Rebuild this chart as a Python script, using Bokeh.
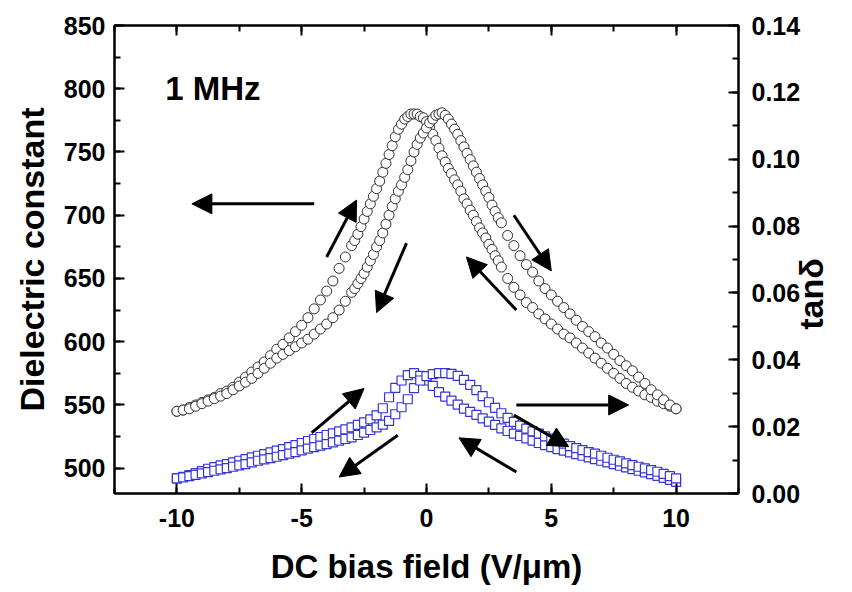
import math
from bokeh.plotting import figure
from bokeh.models import (Range1d, LinearAxis, SingleIntervalTicker, FixedTicker,
                          Arrow, NormalHead, Label, PrintfTickFormatter,
                          CustomJSTickFormatter)
from bokeh.embed import file_html
from bokeh.resources import INLINE

# ---------------- data ----------------
# dielectric constant sweep (finer sampling near the peaks)
field_eps = [-10, -9.75, -9.5, -9.25, -9, -8.75, -8.5, -8.25, -8,
             -7.75, -7.5, -7.25, -7, -6.75, -6.5, -6.25, -6,
             -5.75, -5.5, -5.25, -5, -4.75, -4.5, -4.25, -4,
             -3.75, -3.5, -3.25,
             -3, -2.875, -2.75, -2.625, -2.5, -2.375, -2.25, -2.125,
             -2, -1.875, -1.75, -1.625, -1.5, -1.375, -1.25, -1.125,
             -1, -0.875, -0.75, -0.625, -0.5, -0.375, -0.25, -0.125,
             0, 0.125, 0.25, 0.375, 0.5, 0.625, 0.75, 0.875,
             1, 1.125, 1.25, 1.375, 1.5, 1.625, 1.75, 1.875,
             2, 2.125, 2.25, 2.375, 2.5, 2.625, 2.75, 2.875, 3,
             3.25, 3.5, 3.75, 4,
             4.25, 4.5, 4.75, 5, 5.25, 5.5, 5.75, 6,
             6.25, 6.5, 6.75, 7, 7.25, 7.5, 7.75, 8,
             8.25, 8.5, 8.75, 9, 9.25, 9.5, 9.75, 10]

eps_branch1 = [545, 546, 548, 550, 552, 554, 556, 559, 561,
               564, 568, 572, 576, 580, 584, 589, 594,
               598, 603, 608, 613, 619, 626, 633, 640,
               648, 658, 667,
               676, 680, 685, 691, 697, 703, 709, 715,
               721, 727, 734, 741, 748, 755, 762, 768,
               772, 776, 778, 780, 780, 780, 778, 777,
               774, 770, 764, 759, 753, 747, 742, 737,
               733, 728, 724, 719, 713, 709, 704, 700,
               695, 690, 686, 682, 677, 673, 668, 664, 659,
               650, 643, 637, 631,
               627, 622, 618, 614, 610, 606, 603, 599,
               595, 591, 587, 583, 579, 575, 571, 567,
               564, 561, 558, 556, 553, 551, 549, 547]

eps_branch2 = [545, 546, 547, 549, 551, 553, 555, 557, 559,
               562, 565, 568, 571, 575, 579, 583, 587,
               590, 593, 596, 599, 602, 606, 610, 614,
               619, 625, 632,
               639, 642, 646, 650, 654, 659, 664, 669,
               675, 680, 686, 693, 700, 707, 713, 719,
               724, 730, 736, 743, 750, 756, 761, 765,
               769, 773, 776, 779, 780, 781, 779, 776,
               772, 768, 764, 759, 754, 749, 744, 739,
               734, 729, 724, 719, 714, 708, 703, 698, 694,
               684, 676, 668, 661,
               655, 648, 642, 637, 632, 627, 622, 617,
               612, 608, 604, 599, 595, 590, 585, 581,
               577, 572, 567, 562, 558, 554, 550, 547]

# loss tangent sweep
field_tan = [-10, -9.75, -9.5, -9.25, -9, -8.75, -8.5, -8.25, -8,
             -7.75, -7.5, -7.25, -7, -6.75, -6.5, -6.25, -6,
             -5.75, -5.5, -5.25, -5, -4.75, -4.5, -4.25, -4,
             -3.75, -3.5, -3.25, -3, -2.75, -2.5, -2.25, -2,
             -1.75, -1.5, -1.25, -1, -0.75, -0.5, -0.25, 0,
             0.25, 0.5, 0.75, 1, 1.25, 1.5, 1.75, 2,
             2.25, 2.5, 2.75, 3, 3.25, 3.5, 3.75, 4,
             4.25, 4.5, 4.75, 5, 5.25, 5.5, 5.75, 6,
             6.25, 6.5, 6.75, 7, 7.25, 7.5, 7.75, 8,
             8.25, 8.5, 8.75, 9, 9.25, 9.5, 9.75, 10]

tan_branch1 = [.0045, .0050, .0055, .0061, .0067, .0074, .0079, .0084, .0088,
               .0093, .0098, .0103, .0108, .0113, .0118, .0123, .0128,
               .0133, .0139, .0145, .0151, .0157, .0163, .0169, .0175,
               .0180, .0186, .0192, .0198, .0205, .0213, .0222, .0234,
               .0255, .0288, .0316, .0338, .0354, .0360, .0352, .0338,
               .0322, .0303, .0290, .0278, .0266, .0254, .0244, .0235,
               .0225, .0215, .0205, .0195, .0187, .0179, .0172, .0165,
               .0158, .0151, .0145, .0139, .0133, .0128, .0123, .0118,
               .0113, .0108, .0103, .0098, .0093, .0088, .0083, .0078,
               .0073, .0068, .0063, .0058, .0053, .0047, .0041, .0035]

tan_branch2 = [.0045, .0048, .0052, .0056, .0060, .0064, .0068, .0072, .0076,
               .0080, .0084, .0088, .0093, .0098, .0102, .0106, .0110,
               .0115, .0119, .0124, .0129, .0134, .0139, .0143, .0148,
               .0153, .0158, .0163, .0168, .0175, .0182, .0190, .0198,
               .0206, .0217, .0237, .0258, .0282, .0315, .0338, .0351,
               .0357, .0360, .0360, .0358, .0352, .0340, .0325, .0309,
               .0291, .0273, .0256, .0240, .0226, .0214, .0203, .0194,
               .0186, .0179, .0171, .0164, .0157, .0149, .0142, .0136,
               .0130, .0124, .0119, .0113, .0107, .0101, .0096, .0090,
               .0085, .0080, .0075, .0070, .0065, .0059, .0052, .0045]

# arrow annotations: (x_start, y_start, x_end, y_end) in left-axis units
arrows = [(-4.5, 709, -9.4, 709),
          (-4.0, 667, -2.8, 712),
          (-0.8, 678, -2.0, 623),
          (3.5, 700, 5.0, 656),
          (3.6, 625, 1.6, 667),
          (3.6, 550, 8.1, 550),
          (-4.6, 528, -2.5, 563),
          (-1.15, 526, -3.5, 493),
          (3.5, 542, 5.7, 517),
          (3.6, 497, 1.3, 524)]

FONT = "Liberation Sans"

p = figure(width=852, height=592, output_backend="svg", toolbar_location=None,
           x_range=Range1d(-12.5, 12.5), y_range=Range1d(480, 850.0001),
           min_border_left=114, min_border_right=109,
           min_border_top=25, min_border_bottom=99,
           background_fill_color="white", border_fill_color="white")
p.xgrid.visible = False
p.ygrid.visible = False
p.outline_line_color = "black"
p.outline_line_width = 2
p.extra_y_ranges = {"tan": Range1d(0, 0.1400001)}

def style_axis(ax, size="25px"):
    ax.axis_line_width = 2
    ax.axis_line_color = "black"
    ax.major_tick_line_width = 2
    ax.minor_tick_line_width = 2
    ax.major_tick_in = 10
    ax.major_tick_out = 0
    ax.minor_tick_in = 6
    ax.minor_tick_out = 0
    ax.major_label_text_font = FONT
    ax.major_label_text_font_style = "bold"
    ax.major_label_text_font_size = size
    ax.major_label_text_color = "black"
    ax.axis_label_text_font = FONT
    ax.axis_label_text_font_style = "bold"
    ax.axis_label_text_font_size = "33px"
    ax.axis_label_text_color = "black"

xax = p.xaxis[0]
xax.ticker = SingleIntervalTicker(interval=5, num_minor_ticks=2)
xax.formatter = PrintfTickFormatter(format="%d")
xax.axis_label = "DC bias field (V/\u03bcm)"
style_axis(xax)
xax.major_label_standoff = 15
xax.axis_label_standoff = 18

yax = p.yaxis[0]
yax.ticker = SingleIntervalTicker(interval=50, num_minor_ticks=2)
yax.axis_label = "Dielectric constant"
style_axis(yax)
yax.axis_label_text_font_size = "34px"
yax.major_label_standoff = 9
yax.axis_label_standoff = 10

top = LinearAxis(ticker=SingleIntervalTicker(interval=5, num_minor_ticks=2),
                 formatter=CustomJSTickFormatter(code="return ''"))
style_axis(top)
top.major_label_standoff = 0
p.add_layout(top, "above")

rax = LinearAxis(y_range_name="tan",
                 ticker=SingleIntervalTicker(interval=0.02, num_minor_ticks=2),
                 formatter=PrintfTickFormatter(format="%.2f"))
style_axis(rax)
rax.major_label_standoff = 13
p.add_layout(rax, "right")

# right-hand axis title "tanδ", reading bottom-to-top as in the original
rtitle = LinearAxis(y_range_name="tan", ticker=FixedTicker(ticks=[0.049], minor_ticks=[]),
                    major_label_overrides={0.049: "tan\u03b4"})
rtitle.axis_line_color = None
rtitle.major_tick_line_color = None
rtitle.minor_tick_line_color = None
rtitle.major_tick_in = 0
rtitle.major_tick_out = 0
rtitle.major_label_standoff = 8
rtitle.major_label_orientation = math.pi / 2
rtitle.major_label_text_font = FONT
rtitle.major_label_text_font_style = "bold"
rtitle.major_label_text_font_size = "34px"
rtitle.major_label_text_color = "black"
p.add_layout(rtitle, "right")

# dielectric constant (black open circles)
for eps in (eps_branch1, eps_branch2):
    p.scatter(field_eps, eps, marker="circle", size=10, fill_color="white",
              line_color="#303030", line_width=1)

# tan delta (blue open squares)
for tn in (tan_branch1, tan_branch2):
    p.scatter(field_tan, tn, marker="square", size=9, fill_color="white",
              line_color="#3535d5", line_width=1.2, y_range_name="tan")

for xs, ys, xe, ye in arrows:
    p.add_layout(Arrow(end=NormalHead(size=20, fill_color="black",
                                      line_color="black", line_width=1),
                       x_start=xs, y_start=ys, x_end=xe, y_end=ye,
                       line_width=3, line_color="black"))

p.add_layout(Label(x=-10.47, y=800, text="1 MHz", text_font=FONT,
                   text_font_style="bold", text_font_size="33px",
                   text_baseline="middle", text_color="black"))

open("out.html", "w").write(file_html(p, INLINE))
